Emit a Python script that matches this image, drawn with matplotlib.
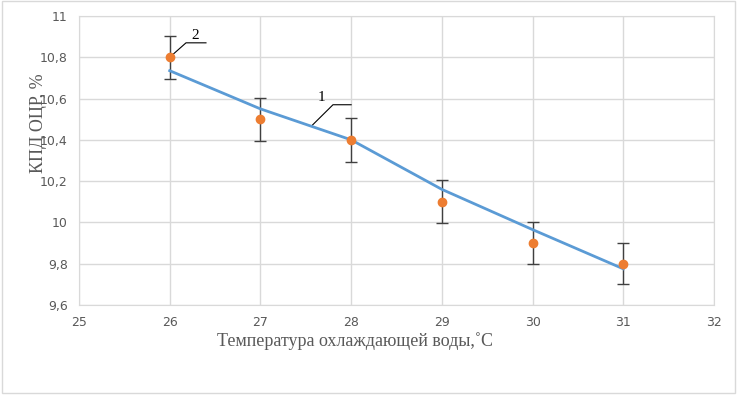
import numpy as np
import matplotlib.pyplot as plt
from matplotlib.ticker import FuncFormatter
from matplotlib.patches import Rectangle

# measured points and fitted line
temp = [26, 27, 28, 29, 30, 31]
eff_exp = [10.8, 10.5, 10.4, 10.1, 9.9, 9.8]
eff_err = [0.105, 0.105, 0.105, 0.105, 0.1, 0.1]
eff_fit = [10.735, 10.55, 10.40, 10.16, 9.965, 9.775]

fig = plt.figure(figsize=(7.38, 3.95), dpi=100)
ax = fig.add_axes([0.107, 0.228, 0.8605, 0.7315])

ax.plot(temp, eff_fit, color='#5b9bd5', lw=2, zorder=3)
ax.errorbar(temp, eff_exp, yerr=eff_err, fmt='none', ecolor='#404040',
            elinewidth=1, capsize=4, capthick=1, zorder=2)
ax.plot(temp, eff_exp, 'o', color='#ed7d31', ms=6, zorder=4)

ax.set_xlim(25, 32)
ax.set_ylim(9.6, 11)
ax.set_xticks(range(25, 33))
ax.set_yticks(np.arange(9.6, 11.01, 0.2))
ax.yaxis.set_major_formatter(FuncFormatter(lambda v, p: ('%g' % round(v, 1)).replace('.', ',')))
ax.grid(True, color='#d9d9d9', lw=1)
ax.set_axisbelow(True)
for s in ax.spines.values():
    s.set_color('#d9d9d9')
ax.tick_params(length=0, colors='#595959', labelsize=9, pad=8)
for lab in ax.get_xticklabels() + ax.get_yticklabels():
    lab.set_family(['Liberation Sans Narrow', 'DejaVu Sans'])

# leader lines with curve numbers
ax.plot([26, 26.18, 26.4], [10.8, 10.87, 10.87], color='black', lw=0.8)
ax.text(26.24, 10.875, '2', family='Liberation Serif', fontsize=11, va='bottom')
ax.plot([27.57, 27.8, 28.0], [10.47, 10.57, 10.57], color='black', lw=0.8)
ax.text(27.63, 10.575, '1', family='Liberation Serif', fontsize=11, va='bottom')

ax.set_ylabel('КПД ОЦР, %', family='Liberation Serif', fontsize=13, color='#595959')
ax.yaxis.set_label_coords(-0.05, 0.63)
fig.text(0.481, 0.137, 'Температура охлаждающей воды,˚С', family='Liberation Serif',
         fontsize=13, color='#595959', ha='center', va='center')

fig.patches.append(Rectangle((0.003, 0.006), 0.993, 0.991, transform=fig.transFigure,
                             fill=False, edgecolor='#d9d9d9', lw=1))
fig.savefig('out.png')
